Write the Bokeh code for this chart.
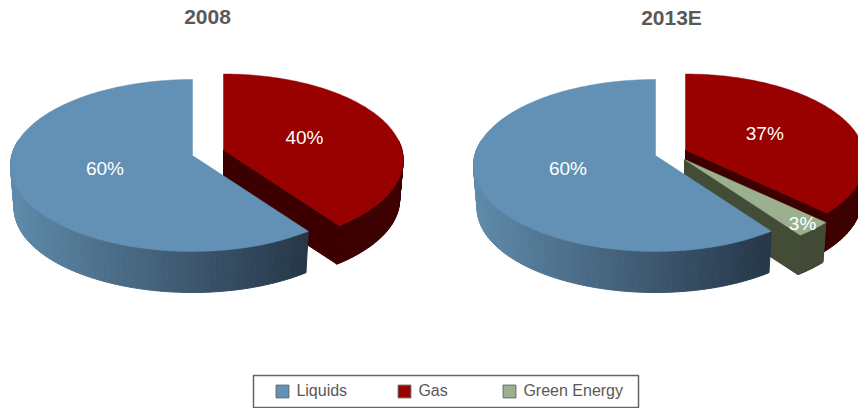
import numpy as np
from bokeh.plotting import figure
from bokeh.models import Legend, LegendItem, Range1d
from bokeh.core.properties import value
from bokeh.embed import file_html
from bokeh.resources import INLINE

# ---- data ----
titles = ["2008", "2013E"]
categories = ["Liquids", "Gas", "Green Energy"]
shares_2008 = {"Gas": 40, "Liquids": 60}
shares_2013 = {"Gas": 37, "Green Energy": 3, "Liquids": 60}
labels_2008 = {"Gas": "40%", "Liquids": "60%"}
labels_2013 = {"Gas": "37%", "Green Energy": "3%", "Liquids": "60%"}

# ---- style ----
TOP = {"Liquids": "#6391B5", "Gas": "#990000", "Green Energy": "#9BB08F"}
SIDE = {"Gas": "#3D0000", "Green Energy": "#434C37"}
SWATCH = {"Liquids": "#6391B5", "Gas": "#990000", "Green Energy": "#9BB08F"}
FONT = value("Liberation Sans")

# ---- projection of the pie disc (camera above, weak perspective) ----
K, A_LEFT, A_RIGHT, B = 0.116, 180.8, 178.5, 84.8
SHRINK = 0.98
DEPTH = {"Liquids": 43.0, "Gas": 40.0, "Green Energy": 41.0}


def proj(theta, r, cx, cy, depth=None):
    u, v = r * np.sin(theta), r * np.cos(theta)
    w = 1 + K * v
    X, Y = np.where(u > 0, A_RIGHT, A_LEFT) * u / w, B * v / w
    if depth is not None:
        return cx + X * SHRINK, cy - Y * SHRINK + depth
    return cx + X, cy - Y


def mix(c0, c1, t):
    a = [int(c0[i:i + 2], 16) for i in (1, 3, 5)]
    b = [int(c1[i:i + 2], 16) for i in (1, 3, 5)]
    return "#%02x%02x%02x" % tuple(int(round(x + (y - x) * t)) for x, y in zip(a, b))


p = figure(width=858, height=408, output_backend="svg", toolbar_location=None,
           x_range=Range1d(0, 858), y_range=Range1d(408, 0), min_border=0,
           background_fill_color="white", outline_line_color=None)
p.axis.visible = False
p.grid.visible = False


def draw_pie(shares, labels, cx, cy, offsets, label_r):
    total = sum(shares.values())
    spans, start = {}, 0.0
    for name, val in shares.items():
        end = start + 2 * np.pi * val / total
        spans[name] = (start, end)
        start = end
    text_x, text_y, text_s = [], [], []
    for name, (t0, t1) in spans.items():
        dx, dy = offsets[name]
        d = DEPTH[name]
        ox, oy = cx + dx, cy + dy
        lo, hi = max(t0, np.pi * 0.5 - 0.12), min(t1, np.pi * 1.56)
        n = 70 if name == "Liquids" else 40
        edges = np.linspace(lo, hi, n + 1)
        xs, ys, cols = [], [], []
        ax, ay = proj(0, 0, ox, oy)
        bx, by = proj(0, 0, ox, oy, d)
        ex, ey = proj(t1, 1, ox, oy)
        fx, fy = proj(t1, 1, ox, oy, d)
        if name != "Liquids":
            xs.append([float(v) for v in (ax, ex, fx, bx)])
            ys.append([float(v) for v in (ay, ey, fy, by)])
            cols.append(SIDE[name])
        for e0, e1 in zip(edges[:-1], edges[1:]):
            x0, y0 = proj(e0, 1, ox, oy)
            x1, y1 = proj(e1, 1, ox, oy)
            x2, y2 = proj(e1, 1, ox, oy, d)
            x3, y3 = proj(e0, 1, ox, oy, d)
            xs.append([float(v) for v in (x0, x1, x2, x3)])
            ys.append([float(v) for v in (y0, y1, y2, y3)])
            if name == "Liquids":
                left, right = cx - A_LEFT, cx + A_RIGHT * 0.62
                t = np.clip(((x0 + x1) / 2 - left) / (right - left), 0, 1)
                cols.append(mix("#5F8AAA", "#27384A", t))
            else:
                cols.append(SIDE[name])
        p.patches(xs, ys, fill_color=cols, line_color=cols, line_width=1)
        th = np.linspace(t0, t1, 160)
        tx, ty = proj(th, 1, ox, oy)
        p.patch(np.r_[ox, tx], np.r_[oy, ty], fill_color=TOP[name],
                line_color=TOP[name], line_width=0.5)
        mid = (t0 + t1) / 2
        lx, ly = proj(mid, label_r[name], ox, oy)
        text_x.append(float(lx))
        text_y.append(float(ly))
        text_s.append(labels[name])
    return text_x, text_y, text_s


CX, CY = [192, 655], 155
t1 = draw_pie(shares_2008, labels_2008, CX[0], CY,
              {"Gas": (31, -5.5), "Liquids": (0, 0)},
              {"Gas": 0.485, "Liquids": 0.50})
t2 = draw_pie(shares_2013, labels_2013, CX[1], CY,
              {"Gas": (30, -5.5), "Green Energy": (29, 4), "Liquids": (0, 0)},
              {"Gas": 0.495, "Green Energy": 0.92, "Liquids": 0.50})

p.text(t1[0] + t2[0], t1[1] + t2[1], text=t1[2] + t2[2], text_color="white",
       text_font=FONT, text_font_size="19px", text_align="center", text_baseline="middle")
p.text([207, 671], [16.5, 16.5], text=titles, text_color="#595959", text_font=FONT,
       text_font_size="21px", text_font_style="bold", text_align="center",
       text_baseline="middle")

# legend frame
p.quad(left=[253], right=[638], top=[375], bottom=[407], fill_color="white",
       line_color="#666666", line_width=1.5)

legend_x = {"Liquids": 274.4, "Gas": 396.4, "Green Energy": 501.4}
for name in categories:
    r = p.quad(left=[np.nan], right=[np.nan], top=[np.nan], bottom=[np.nan],
               fill_color=SWATCH[name], line_color="#666666")
    legend = Legend(items=[LegendItem(label=name, renderers=[r])], location=(legend_x[name], 8),
                    padding=0, margin=0, glyph_width=16, glyph_height=16, label_standoff=6,
                    label_text_font="Liberation Sans", label_text_font_size="16px",
                    label_text_color="#595959", border_line_color=None,
                    background_fill_alpha=0, label_height=18)
    p.add_layout(legend, "center")

open("out.html", "w").write(file_html(p, INLINE))
